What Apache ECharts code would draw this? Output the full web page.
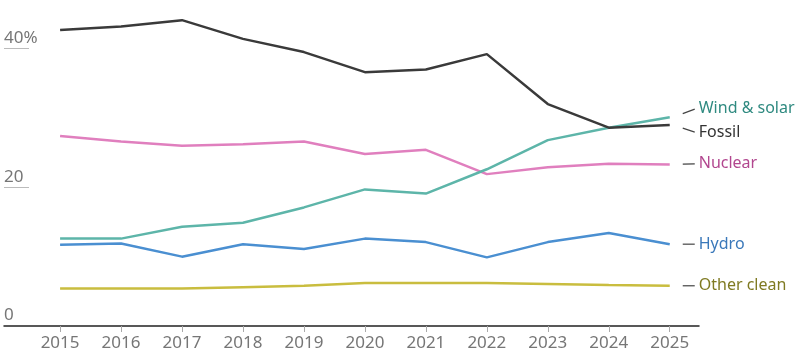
<!DOCTYPE html>
<html>
<head>
<meta charset="utf-8">
<script src="https://cdn.jsdelivr.net/npm/echarts@6/dist/echarts.min.js"></script>
<style>
html,body{margin:0;padding:0;background:#fff;}
#chart{width:800px;height:362px;}
</style>
</head>
<body>
<div id="chart"></div>
<script>
var years = [2015, 2016, 2017, 2018, 2019, 2020, 2021, 2022, 2023, 2024, 2025];
var fossil = [42.7, 43.2, 44.1, 41.4, 39.5, 36.6, 37.0, 39.2, 32.0, 28.6, 29.0];
var windSolar = [12.6, 12.6, 14.3, 14.9, 17.1, 19.7, 19.1, 22.6, 26.8, 28.6, 30.1];
var nuclear = [27.4, 26.6, 26.0, 26.2, 26.6, 24.8, 25.4, 21.9, 22.9, 23.4, 23.3];
var hydro = [11.7, 11.9, 10.0, 11.8, 11.1, 12.6, 12.1, 9.9, 12.1, 13.4, 11.8];
var otherClean = [5.4, 5.4, 5.4, 5.6, 5.8, 6.2, 6.2, 6.2, 6.05, 5.9, 5.8];
var seriesNames = ['Other clean', 'Hydro', 'Nuclear', 'Wind & solar', 'Fossil'];
var yTicks = [0, 20, 40];
var yTickLabels = ['0', '20', '40%'];

var seriesData = [otherClean, hydro, nuclear, windSolar, fossil];
var lineColors = ['#c9bd3f', '#4a8fd1', '#e07fbe', '#5db5a9', '#3a3a3a'];
var textColors = ['#7f7a22', '#3a78ba', '#b2478f', '#2f8a80', '#333333'];
var labelDy = [0, 0, -0.5, -9, 8];

function pairs(arr) {
  return years.map(function (y, i) { return [y, arr[i]]; });
}

var series = seriesData.map(function (d, i) {
  return {
    type: 'line',
    name: seriesNames[i],
    data: pairs(d),
    symbol: 'none',
    smooth: false,
    lineStyle: { color: lineColors[i], width: 2.5 },
    z: 2 + i
  };
});

var lastYear = years[years.length - 1];
var labelData = seriesData.map(function (d, i) {
  return [lastYear, d[d.length - 1], labelDy[i], i];
});

series.push({
  type: 'custom',
  clip: false,
  silent: true,
  z: 20,
  data: labelData,
  renderItem: function (params, api) {
    var p = api.coord([api.value(0), api.value(1)]);
    var dy = api.value(2);
    var i = api.value(3);
    return {
      type: 'group',
      children: [
        {
          type: 'line',
          shape: { x1: p[0] + 13, y1: p[1] + dy * 0.4, x2: p[0] + 25, y2: p[1] + dy * 0.9 },
          style: { stroke: '#444', lineWidth: 1.2 }
        },
        {
          type: 'text',
          x: p[0] + 29,
          y: p[1] + dy,
          style: {
            text: seriesNames[i],
            fill: textColors[i],
            font: '16px "Noto Sans"',
            align: 'left',
            verticalAlign: 'middle'
          }
        }
      ]
    };
  }
});

var chart = echarts.init(document.getElementById('chart'), null, { renderer: 'canvas' });
chart.setOption({
  animation: false,
  backgroundColor: '#ffffff',
  grid: { left: 4, right: 101, top: 7, bottom: 36, containLabel: false },
  xAxis: {
    type: 'value',
    min: 2014.08,
    max: 2025.48,
    splitLine: { show: false },
    axisLine: { show: true, lineStyle: { color: '#222', width: 1.5 } },
    axisTick: { show: true, customValues: years, length: 6, lineStyle: { color: '#aaa', width: 1 } },
    axisLabel: {
      customValues: years,
      formatter: function (v) { return String(v); },
      color: '#767676',
      fontFamily: 'Noto Sans',
      fontSize: 17,
      margin: 9
    }
  },
  yAxis: {
    type: 'value',
    min: 0,
    max: 46,
    splitLine: { show: false },
    axisLine: { show: false },
    axisTick: {
      show: true,
      inside: true,
      length: 25,
      customValues: [yTicks[1], yTicks[2]],
      lineStyle: { color: '#bbb', width: 1 }
    },
    axisLabel: {
      inside: true,
      customValues: yTicks,
      formatter: function (v) { return yTickLabels[yTicks.indexOf(v)]; },
      color: '#767676',
      fontFamily: 'Noto Sans',
      fontSize: 17,
      align: 'left',
      verticalAlign: 'bottom',
      margin: 0,
      padding: [0, 0, 2, 0]
    }
  },
  series: series
});
</script>
</body>
</html>
